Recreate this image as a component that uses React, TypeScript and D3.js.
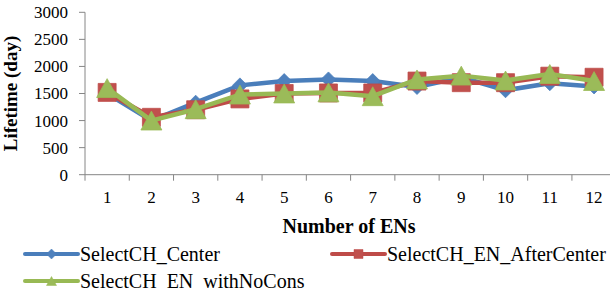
import React from 'react';
import * as d3 from 'd3';

const categories = ['1', '2', '3', '4', '5', '6', '7', '8', '9', '10', '11', '12'];
const selectCenter = [1500, 1000, 1330, 1650, 1730, 1760, 1730, 1620, 1800, 1560, 1690, 1630];
const selectAfterCenter = [1520, 1060, 1200, 1400, 1500, 1510, 1510, 1730, 1700, 1700, 1820, 1800];
const selectNoCons = [1600, 1000, 1210, 1480, 1500, 1520, 1450, 1760, 1830, 1740, 1860, 1730];
const yTicks = [0, 500, 1000, 1500, 2000, 2500, 3000];
const seriesNames = ['SelectCH_Center', 'SelectCH_EN_AfterCenter', 'SelectCH_EN_withNoCons'];

const W = 610;
const H = 290;
const FONT = "'Liberation Serif', 'DejaVu Serif', serif";

const x = d3.scaleBand<string>().domain(categories).range([85, 616.2]).padding(0);
const y = d3.scaleLinear().domain([0, 3000]).range([174.7, 12.3]);

type Shape = 'diamond' | 'square' | 'triangle';

function markerPath(shape: Shape, s: number): string {
  const p = d3.path();
  const h = s / 2;
  if (shape === 'diamond') {
    p.moveTo(0, -h); p.lineTo(h, 0); p.lineTo(0, h); p.lineTo(-h, 0); p.closePath();
  } else if (shape === 'square') {
    p.rect(-h, -h, s, s);
  } else {
    const th = s * 0.9;
    p.moveTo(0, -th / 2); p.lineTo(h, th / 2); p.lineTo(-h, th / 2); p.closePath();
  }
  return p.toString();
}

const series = [
  { name: seriesNames[0], values: selectCenter, line: '#4A7EBB', fill: '#4F81BD', shape: 'diamond' as Shape, size: 15 },
  { name: seriesNames[1], values: selectAfterCenter, line: '#BE4B48', fill: '#C0504D', shape: 'square' as Shape, size: 18 },
  { name: seriesNames[2], values: selectNoCons, line: '#98B954', fill: '#9BBB59', shape: 'triangle' as Shape, size: 21 },
];

const legendPos = [
  { x0: 25, x1: 78, y: 254 },
  { x0: 332, x1: 385, y: 254 },
  { x0: 25, x1: 78, y: 281 },
];

export default function App() {
  const cx = (c: string) => (x(c) as number) + x.bandwidth() / 2;
  const lineGen = (vals: number[]) =>
    d3.line<number>().x((_, i) => cx(categories[i])).y((v) => y(v))(vals) as string;
  const axisColor = '#868686';
  const boundaries = categories.map((c) => x(c) as number).concat([x.range()[1]]);
  const txt = { fontFamily: FONT } as React.CSSProperties;
  return (
    <svg width={W} height={H} style={{ position: 'absolute', left: 0, top: 0, background: '#fff' }}>
      <rect width={W} height={H} fill="#fff" />
      {/* y axis */}
      <line x1={85} x2={85} y1={y(3000)} y2={y(0)} stroke={axisColor} strokeWidth={1} />
      {yTicks.map((t) => (
        <g key={t}>
          <line x1={79} x2={85} y1={y(t)} y2={y(t)} stroke={axisColor} strokeWidth={1} />
          <text x={68} y={y(t)} dy="0.35em" textAnchor="end" style={txt} fontSize={17} fill="#000">
            {t}
          </text>
        </g>
      ))}
      {/* x axis */}
      <line x1={85} x2={x.range()[1]} y1={y(0)} y2={y(0)} stroke={axisColor} strokeWidth={1} />
      {boundaries.map((b, i) => (
        <line key={i} x1={b} x2={b} y1={y(0)} y2={y(0) + 6} stroke={axisColor} strokeWidth={1} />
      ))}
      {categories.map((c) => (
        <text key={c} x={cx(c)} y={203} textAnchor="middle" style={txt} fontSize={17} fill="#000">
          {c}
        </text>
      ))}
      <text x={349} y={233} textAnchor="middle" style={txt} fontSize={20} fontWeight="bold" fill="#000">
        Number of ENs
      </text>
      <text
        transform={`translate(17, ${(y(0) + y(3000)) / 2}) rotate(-90)`}
        textAnchor="middle"
        style={txt}
        fontSize={19}
        fontWeight="bold"
        fill="#000"
      >
        Lifetime (day)
      </text>
      {/* series */}
      {series.map((s) => (
        <g key={s.name}>
          <path d={lineGen(s.values)} fill="none" stroke={s.line} strokeWidth={4.5} strokeLinejoin="round" strokeLinecap="round" />
          {s.values.map((v, i) => (
            <path
              key={i}
              d={markerPath(s.shape, s.size)}
              transform={`translate(${cx(categories[i])},${y(v)})`}
              fill={s.fill}
              stroke={s.line}
              strokeWidth={0.75}
            />
          ))}
        </g>
      ))}
      {/* legend */}
      {series.map((s, i) => {
        const lp = legendPos[i];
        return (
          <g key={s.name}>
            <line x1={lp.x0} x2={lp.x1} y1={lp.y} y2={lp.y} stroke={s.line} strokeWidth={4} strokeLinecap="round" />
            <path
              d={markerPath(s.shape, s.shape === 'square' ? 9 : 10)}
              transform={`translate(${(lp.x0 + lp.x1) / 2},${lp.y})`}
              fill={s.fill}
              stroke={s.line}
              strokeWidth={0.5}
            />
            <text x={lp.x1 + 2} y={lp.y} dy="0.35em" style={txt} fontSize={20} fill="#000">
              {s.name}
            </text>
          </g>
        );
      })}
    </svg>
  );
}
